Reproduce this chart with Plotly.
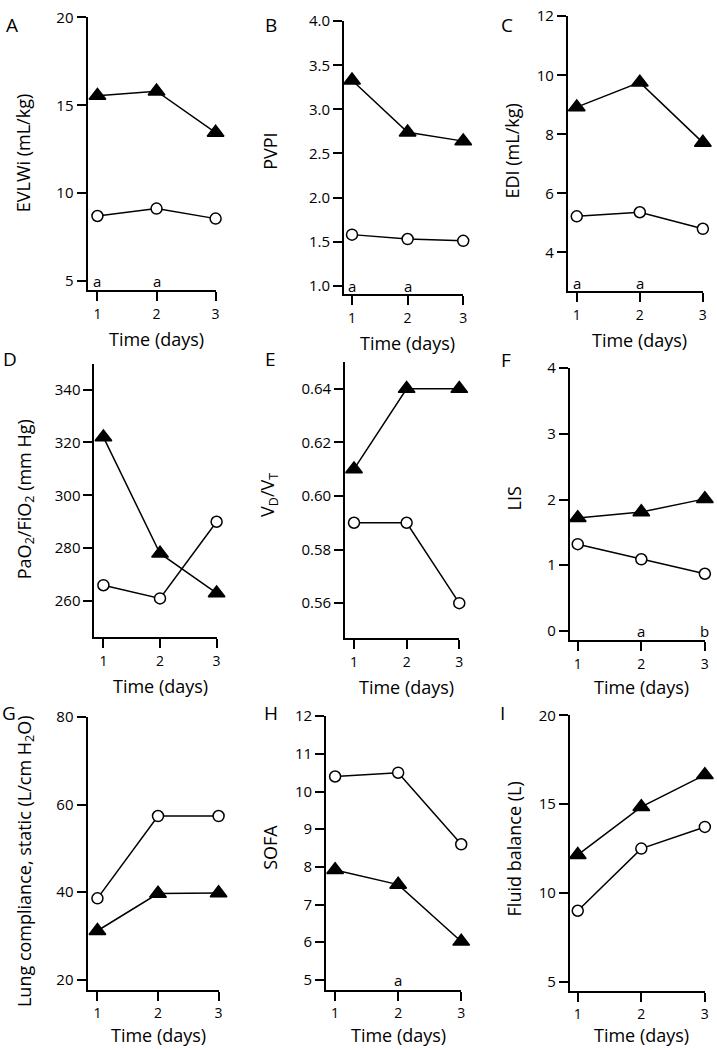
import plotly.graph_objects as go

# ---------------- data ----------------
days = [1, 2, 3]
tick_days = ["1", "2", "3"]
panel_letters = ["A", "B", "C", "D", "E", "F", "G", "H", "I"]
y_titles = [
    "EVLWi (mL/kg)",
    "PVPI",
    "EDI (mL/kg)",
    "PaO<sub>2</sub>/FiO<sub>2</sub> (mm Hg)",
    "V<sub>D</sub>/V<sub>T</sub>",
    "LIS",
    "Lung compliance, static (L/cm H<sub>2</sub>O)",
    "SOFA",
    "Fluid balance (L)",
]
x_title = "Time (days)"

tri_A = [15.55, 15.8, 13.45]
circ_A = [8.7, 9.12, 8.55]
tri_B = [3.33, 2.74, 2.64]
circ_B = [1.58, 1.53, 1.51]
tri_C = [8.92, 9.76, 7.72]
circ_C = [5.22, 5.36, 4.8]
tri_D = [322, 278, 263]
circ_D = [266, 261, 290]
tri_E = [0.61, 0.64, 0.64]
circ_E = [0.59, 0.59, 0.56]
tri_F = [1.72, 1.81, 2.01]
circ_F = [1.32, 1.09, 0.87]
tri_G = [31.2, 39.7, 39.8]
circ_G = [38.6, 57.4, 57.4]
tri_H = [7.92, 7.53, 6.02]
circ_H = [10.4, 10.5, 8.6]
tri_I = [12.15, 14.85, 16.65]
circ_I = [9.0, 12.5, 13.72]

tri_series = [tri_A, tri_B, tri_C, tri_D, tri_E, tri_F, tri_G, tri_H, tri_I]
circ_series = [circ_A, circ_B, circ_C, circ_D, circ_E, circ_F, circ_G, circ_H, circ_I]

yticks_A = [5, 10, 15, 20]
yticks_B = [1.0, 1.5, 2.0, 2.5, 3.0, 3.5, 4.0]
yticks_C = [4, 6, 8, 10, 12]
yticks_D = [260, 280, 300, 320, 340]
yticks_E = [0.56, 0.58, 0.60, 0.62, 0.64]
yticks_F = [0, 1, 2, 3, 4]
yticks_G = [20, 40, 60, 80]
yticks_H = [5, 6, 7, 8, 9, 10, 11, 12]
yticks_I = [5, 10, 15, 20]
yticks = [yticks_A, yticks_B, yticks_C, yticks_D, yticks_E, yticks_F, yticks_G, yticks_H, yticks_I]
ytickformats = ["d", ".1f", "d", "d", ".2f", "d", "d", "d", "d"]

# significance letters: (day, label) per panel
sig_A = [(1, "a"), (2, "a")]
sig_B = [(1, "a"), (2, "a")]
sig_C = [(1, "a"), (2, "a")]
sig_F = [(2, "a"), (3, "b")]
sig_H = [(2, "a")]
sig_marks = [sig_A, sig_B, sig_C, [], [], sig_F, [], sig_H, []]

# ---------------- layout geometry (pixels) ----------------
W, H = 717, 1050
# x0: y-axis position, x1: day-1 tick, x3: day-3 tick, ytop/ybot: axis extent,
# tx: x-title centre offset below axis
geom = [
    dict(x0=88, x1=98, x3=217, ytop=6, ybot=282, yr=[4.5, 20.03], sigy=5.0, ty=23, tyc=144, tx=50),
    dict(x0=346, x1=354, x3=466, ytop=10, ybot=286, yr=[0.91, 4.003], sigy=1.0, ty=272, tyc=142, tx=50),
    dict(x0=571, x1=580, x3=707, ytop=5, ybot=283, yr=[2.7, 12.01], sigy=2.97, ty=515, tyc=142, tx=50),
    dict(x0=95, x1=104, x3=218, ytop=357, ybot=633, yr=[246.5, 349.7], sigy=None, ty=25, tyc=494, tx=50),
    dict(x0=347, x1=356, x3=462, ytop=355, ybot=634, yr=[0.5471, 0.650], sigy=None, ty=270, tyc=489, tx=50),
    dict(x0=573, x1=581, x3=709, ytop=361, ybot=636, yr=[-0.135, 4.005], sigy=0.0, ty=517, tyc=493, tx=48),
    dict(x0=88, x1=98, x3=220, ytop=714, ybot=990, yr=[17.74, 80.05], sigy=None, ty=25, tyc=860, tx=46),
    dict(x0=328, x1=337, x3=464, ytop=713, ybot=990, yr=[4.74, 12.01], sigy=5.0, ty=272, tyc=846, tx=46),
    dict(x0=573, x1=581, x3=709, ytop=712, ybot=991, yr=[4.5, 20.03], sigy=None, ty=517, tyc=848, tx=45),
]
letter_pos = [(12, 14), (273, 14), (510, 14), (10, 352), (272, 352), (509, 353),
              (9, 710), (273, 710), (505, 710)]

FONT = "Open Sans"
TICK_SIZE = 15
XTICK_SIZE = 14
TITLE_SIZE = 18

fig = go.Figure()
annotations = []
layout = {}

for i in range(9):
    g = geom[i]
    n = "" if i == 0 else str(i + 1)
    xa, ya = "x" + n, "y" + n
    unit = (g["x3"] - g["x1"]) / 2.0
    xstart = 1 - (g["x1"] - g["x0"]) / unit

    fig.add_trace(go.Scatter(
        x=days, y=tri_series[i], mode="lines+markers", xaxis=xa, yaxis=ya,
        line=dict(color="black", width=1.5),
        marker=dict(symbol="triangle-up", size=14.5, color="black",
                    line=dict(color="black", width=1.5)),
        cliponaxis=False, showlegend=False))
    fig.add_trace(go.Scatter(
        x=days, y=circ_series[i], mode="lines+markers", xaxis=xa, yaxis=ya,
        line=dict(color="black", width=1.5),
        marker=dict(symbol="circle", size=11, color="white",
                    line=dict(color="black", width=1.5)),
        cliponaxis=False, showlegend=False))

    layout["xaxis" + n] = dict(
        domain=[g["x0"] / W, g["x3"] / W], anchor=ya,
        range=[xstart, 3.003], tickvals=days, ticktext=tick_days,
        showline=True, linecolor="black", linewidth=2,
        ticks="outside", ticklen=9, tickwidth=2, tickcolor="black",
        ticklabelstandoff=1,
        showgrid=False, zeroline=False,
        tickfont=dict(family=FONT, size=XTICK_SIZE, color="black"),
    )
    layout["yaxis" + n] = dict(
        domain=[1 - g["ybot"] / H, 1 - g["ytop"] / H], anchor=xa,
        range=g["yr"], tickvals=yticks[i], tickformat=ytickformats[i],
        showline=True, linecolor="black", linewidth=2,
        ticks="outside", ticklen=9, tickwidth=2, tickcolor="black",
        showgrid=False, zeroline=False,
        tickfont=dict(family=FONT, size=TICK_SIZE, color="black"),
    )

    # y-axis title
    annotations.append(dict(
        text=y_titles[i], x=g["ty"] / W, y=1 - g["tyc"] / H,
        xref="paper", yref="paper", textangle=-90, showarrow=False,
        xanchor="center", yanchor="middle",
        font=dict(family=FONT, size=TITLE_SIZE, color="black")))
    # x-axis title
    annotations.append(dict(
        text=x_title, x=(g["x1"] + g["x3"]) / 2 / W, y=1 - (g["ybot"] + g["tx"]) / H,
        xref="paper", yref="paper", showarrow=False,
        xanchor="center", yanchor="middle",
        font=dict(family=FONT, size=TITLE_SIZE, color="black")))
    # panel letter
    lx, ly = letter_pos[i]
    annotations.append(dict(
        text=panel_letters[i], x=lx / W, y=1 - ly / H,
        xref="paper", yref="paper", showarrow=False,
        xanchor="center", yanchor="middle",
        font=dict(family=FONT, size=19, color="black")))
    # significance letters
    for d, lab in sig_marks[i]:
        annotations.append(dict(
            text=lab, x=d, y=g["sigy"], xref=xa, yref=ya, showarrow=False,
            xanchor="center", yanchor="middle",
            font=dict(family=FONT, size=TICK_SIZE, color="black")))

fig.update_layout(
    width=W, height=H,
    margin=dict(l=0, r=0, t=0, b=0),
    paper_bgcolor="white", plot_bgcolor="white",
    annotations=annotations,
    **layout,
)

fig.write_html(
    "out.html",
    config={"displayModeBar": False},
    post_script="document.body.style.margin='0px';document.body.style.overflow='hidden';",
)
